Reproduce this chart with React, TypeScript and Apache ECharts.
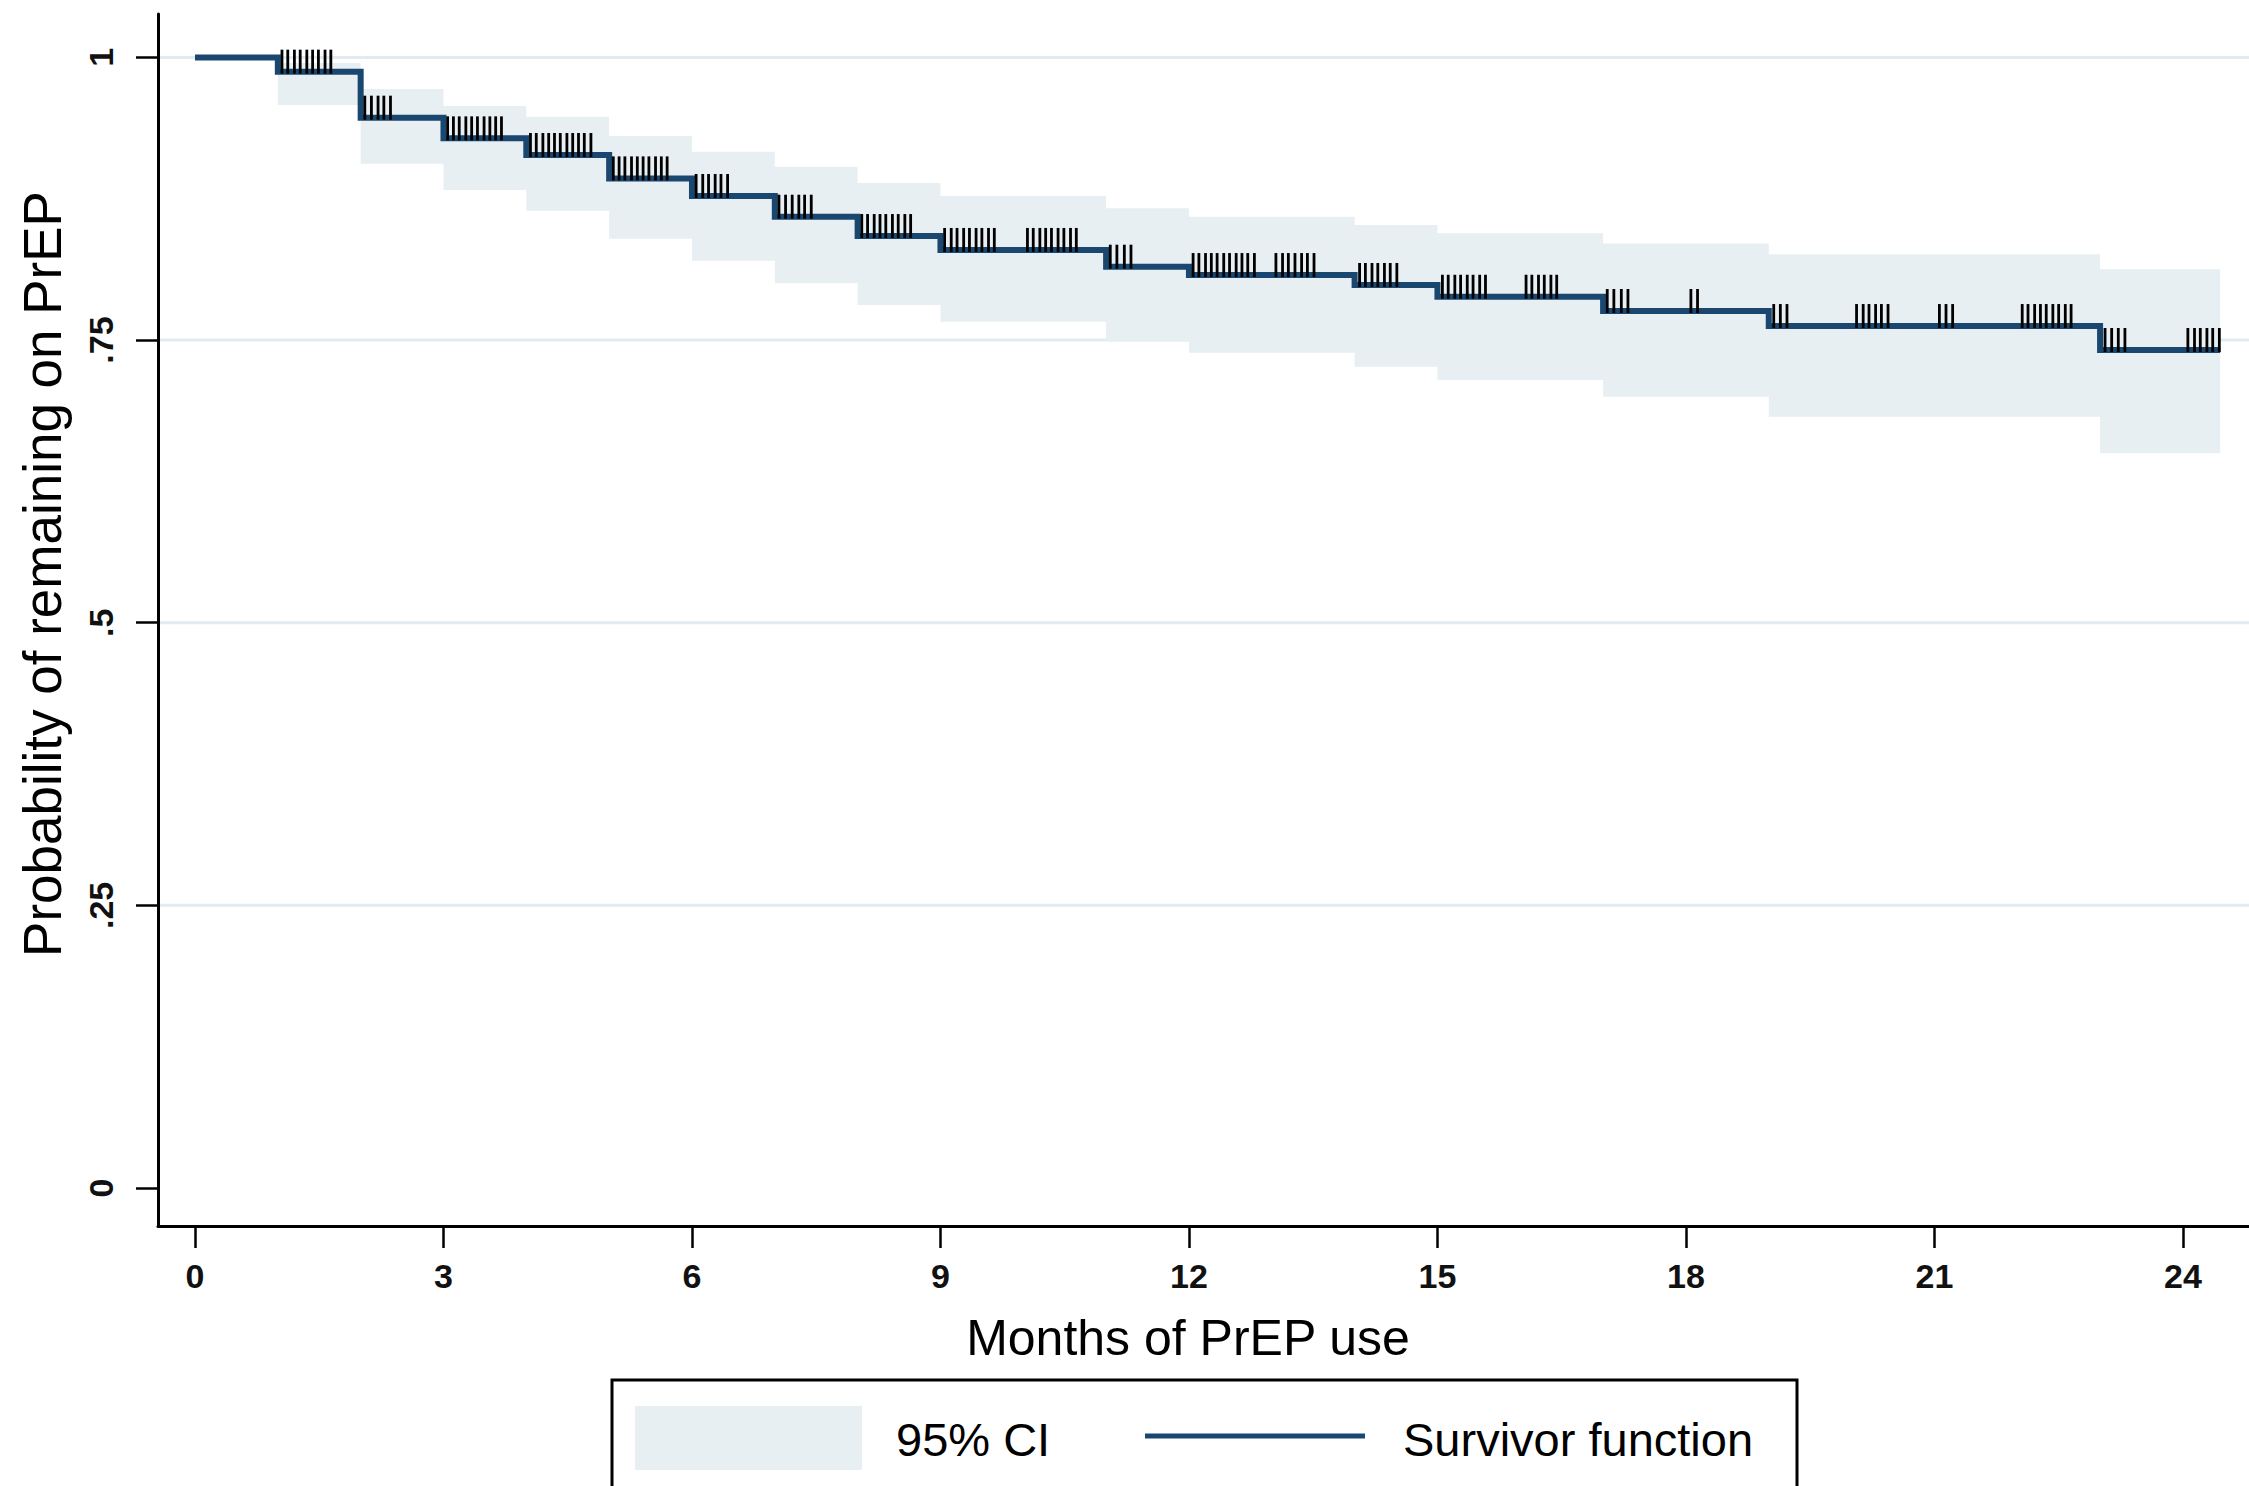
import React, { useEffect, useRef } from "react";
import * as echarts from "echarts";

// Kaplan–Meier step function: value holds from each time until the next one
const eventTimes = [0, 1, 2, 3, 4, 5, 6, 7, 8, 9, 11, 12, 14, 15, 17, 19, 23, 24.45];
const survival = [1, 0.9874, 0.9467, 0.9284, 0.9137, 0.893, 0.8774, 0.8591, 0.842, 0.8297, 0.8149, 0.8075, 0.7987, 0.7883, 0.7757, 0.7624, 0.7412, 0.7412];

// 95% CI band, piecewise constant from each start to the next
const ciStart = [1, 2, 3, 4, 5, 6, 7, 8, 9, 11, 12, 14, 15, 17, 19, 23];
const ciEnd = 24.45;
const ciUpper = [0.995, 0.972, 0.957, 0.9476, 0.9305, 0.9166, 0.9033, 0.889, 0.8774, 0.8665, 0.859, 0.8517, 0.8444, 0.8355, 0.8258, 0.8126];
const ciLower = [0.958, 0.906, 0.8827, 0.8644, 0.8397, 0.8202, 0.8002, 0.781, 0.7662, 0.7488, 0.7388, 0.7264, 0.7147, 0.6999, 0.6822, 0.6498];

// censoring times (months)
const censorTimes = [
  1.05, 1.12, 1.2, 1.27, 1.35, 1.42, 1.49, 1.57, 1.64,
  2.05, 2.13, 2.21, 2.28, 2.36,
  3.05, 3.12, 3.19, 3.27, 3.34, 3.41, 3.49, 3.56, 3.63, 3.7,
  4.05, 4.12, 4.2, 4.27, 4.34, 4.41, 4.49, 4.56, 4.63, 4.7, 4.78,
  5.05, 5.12, 5.19, 5.27, 5.34, 5.41, 5.48, 5.56, 5.63, 5.7,
  6.05, 6.13, 6.2, 6.28, 6.35, 6.43,
  7.05, 7.13, 7.21, 7.29, 7.36, 7.44,
  8.05, 8.12, 8.2, 8.27, 8.34, 8.42, 8.49, 8.57, 8.64,
  9.05, 9.13, 9.2, 9.28, 9.35, 9.43, 9.5, 9.58, 9.65,
  10.05, 10.12, 10.2, 10.27, 10.34, 10.42, 10.49, 10.57, 10.64,
  11.05, 11.13, 11.22, 11.3,
  12.05, 12.12, 12.2, 12.27, 12.34, 12.42, 12.49, 12.57, 12.64, 12.71, 12.79,
  13.05, 13.13, 13.2, 13.28, 13.36, 13.43, 13.51,
  14.06, 14.13, 14.21, 14.28, 14.36, 14.43, 14.51,
  15.06, 15.13, 15.21, 15.28, 15.36, 15.43, 15.51, 15.58,
  16.07, 16.14, 16.22, 16.29, 16.37, 16.44,
  17.05, 17.13, 17.22, 17.3,
  18.06, 18.14,
  19.06, 19.14, 19.22,
  20.06, 20.14, 20.21, 20.29, 20.36, 20.44,
  21.06, 21.14, 21.22,
  22.06, 22.13, 22.21, 22.28, 22.35, 22.43, 22.5, 22.58, 22.65,
  23.06, 23.14, 23.22, 23.3,
  24.06, 24.14, 24.21, 24.29, 24.36, 24.44,
];

const xTicks = [0, 3, 6, 9, 12, 15, 18, 21, 24];
const yTicks = [0, 0.25, 0.5, 0.75, 1];
const yTickLabels = ["0", ".25", ".5", ".75", "1"];
const gridValues = [0.25, 0.5, 0.75, 1];

const xTitle = "Months of PrEP use";
const yTitle = "Probability of remaining on PrEP";
const legendLabels = ["95% CI", "Survivor function"];

const NAVY = "#1a476f";
const BAND = "#e8eff2";
const GRID = "#e2ebf1";
const FONT = "'Liberation Sans', Helvetica, Arial, sans-serif";

function levelAt(t: number): number {
  let v = survival[0];
  for (let i = 0; i < eventTimes.length; i++) {
    if (eventTimes[i] <= t) v = survival[i];
  }
  return v;
}

export default function App() {
  const ref = useRef<HTMLDivElement>(null);

  useEffect(() => {
    if (!ref.current) return;
    const chart = echarts.init(ref.current, undefined, { renderer: "svg" });

    const option: any = {
      animation: false,
      backgroundColor: "#ffffff",
      grid: { left: 158, right: 0, top: 14, bottom: 260, containLabel: false },
      xAxis: {
        type: "value",
        min: -0.4467,
        max: 24.798,
        axisLine: { onZero: false, lineStyle: { color: "#000", width: 3 } },
        axisTick: { customValues: xTicks, length: 22, lineStyle: { color: "#000", width: 2.5 } },
        axisLabel: {
          customValues: xTicks,
          fontSize: 34,
          fontWeight: "bold",
          fontFamily: FONT,
          color: "#111",
          margin: 33,
        },
        splitLine: { show: false },
      },
      yAxis: {
        type: "value",
        min: -0.0336,
        max: 1.0384,
        axisLine: { onZero: false, lineStyle: { color: "#000", width: 3 } },
        axisTick: { customValues: yTicks, length: 22, lineStyle: { color: "#000", width: 2.5 } },
        axisLabel: {
          customValues: yTicks,
          rotate: 90,
          fontSize: 34,
          fontWeight: "bold",
          fontFamily: FONT,
          color: "#111",
          margin: 40,
          formatter: (v: number) => {
            const i = yTicks.findIndex((t) => Math.abs(t - v) < 1e-9);
            return i >= 0 ? yTickLabels[i] : "";
          },
        },
        splitLine: { show: false },
      },
      series: [
        {
          type: "custom",
          name: "grid",
          z: 1,
          silent: true,
          data: gridValues.map((v) => [0, v]),
          encode: { x: 0, y: 1 },
          renderItem: (params: any, api: any) => {
            const y = api.coord([0, api.value(1)])[1];
            const cs = params.coordSys;
            return {
              type: "line",
              shape: { x1: cs.x + 2, y1: y, x2: cs.x + cs.width, y2: y },
              style: { stroke: GRID, lineWidth: 3 },
            };
          },
        },
        {
          type: "custom",
          name: legendLabels[0],
          z: 2,
          silent: true,
          data: [[ciStart[0], ciUpper[0]]],
          encode: { x: 0, y: 1 },
          renderItem: (params: any, api: any) => {
            const pts: number[][] = [];
            for (let i = 0; i < ciStart.length; i++) {
              const t1 = i + 1 < ciStart.length ? ciStart[i + 1] : ciEnd;
              pts.push(api.coord([ciStart[i], ciUpper[i]]));
              pts.push(api.coord([t1, ciUpper[i]]));
            }
            for (let i = ciStart.length - 1; i >= 0; i--) {
              const t1 = i + 1 < ciStart.length ? ciStart[i + 1] : ciEnd;
              pts.push(api.coord([t1, ciLower[i]]));
              pts.push(api.coord([ciStart[i], ciLower[i]]));
            }
            return { type: "polygon", shape: { points: pts }, style: { fill: BAND } };
          },
        },
        {
          type: "line",
          name: legendLabels[1],
          z: 3,
          step: "end",
          symbol: "none",
          silent: true,
          data: eventTimes.map((t, i) => [t, survival[i]]),
          lineStyle: { color: NAVY, width: 6, join: "miter", cap: "butt" },
        },
        {
          type: "custom",
          name: "censored",
          z: 4,
          silent: true,
          data: censorTimes.map((t) => [t, levelAt(t)]),
          encode: { x: 0, y: 1 },
          renderItem: (params: any, api: any) => {
            const p = api.coord([api.value(0), api.value(1)]);
            return {
              type: "line",
              shape: { x1: p[0], y1: p[1] + 2, x2: p[0], y2: p[1] - 22 },
              style: { stroke: "#000", lineWidth: 2.8 },
            };
          },
        },
      ],
      graphic: [
        {
          type: "text",
          x: 1188,
          y: 1338,
          style: {
            text: xTitle,
            fontSize: 50,
            fontFamily: FONT,
            fill: "#000",
            textAlign: "center",
            textVerticalAlign: "middle",
          },
        },
        {
          type: "text",
          x: 42,
          y: 574,
          rotation: Math.PI / 2,
          style: {
            text: yTitle,
            fontSize: 53,
            fontFamily: FONT,
            fill: "#000",
            textAlign: "center",
            textVerticalAlign: "middle",
          },
        },
        {
          type: "rect",
          shape: { x: 612, y: 1380, width: 1185, height: 140 },
          style: { fill: "#fff", stroke: "#000", lineWidth: 3 },
        },
        {
          type: "rect",
          shape: { x: 635, y: 1406, width: 227, height: 64 },
          style: { fill: BAND },
        },
        {
          type: "text",
          x: 896,
          y: 1439,
          style: {
            text: legendLabels[0],
            fontSize: 47,
            fontFamily: FONT,
            fill: "#000",
            textAlign: "left",
            textVerticalAlign: "middle",
          },
        },
        {
          type: "line",
          shape: { x1: 1145, y1: 1436, x2: 1365, y2: 1436 },
          style: { stroke: NAVY, lineWidth: 5 },
        },
        {
          type: "text",
          x: 1403,
          y: 1439,
          style: {
            text: legendLabels[1],
            fontSize: 47,
            fontFamily: FONT,
            fill: "#000",
            textAlign: "left",
            textVerticalAlign: "middle",
          },
        },
      ],
    };

    chart.setOption(option);
    return () => chart.dispose();
  }, []);

  return (
    <div
      ref={ref}
      style={{ position: "fixed", left: 0, top: 0, width: 2249, height: 1486, background: "#fff" }}
    />
  );
}
